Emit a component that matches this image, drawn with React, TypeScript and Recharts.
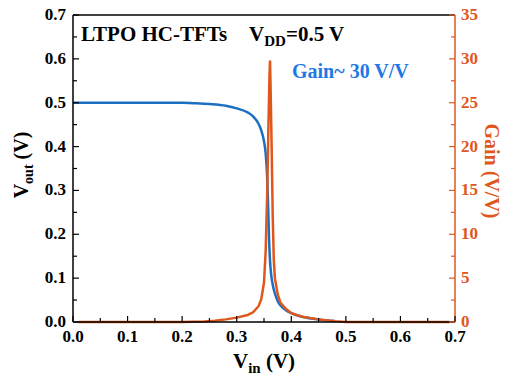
import React from 'react';
import { ComposedChart, Line, XAxis, YAxis, ReferenceLine } from 'recharts';

const BLUE = '#1a6fc0';
const ORANGE = '#e0571c';
const TEXT_BLUE = '#1f78e6';
const FONT = '"Liberation Serif", "Times New Roman", serif';

// Vout transfer curve
const vinVout = [0, 0.05, 0.1, 0.15, 0.2, 0.22, 0.25, 0.28, 0.3, 0.32, 0.33, 0.34, 0.345, 0.35, 0.353, 0.355, 0.357, 0.359, 0.361, 0.363, 0.366, 0.37, 0.375, 0.38, 0.39, 0.4, 0.42, 0.45, 0.48];
const vout = [0.5, 0.5, 0.5, 0.5, 0.5, 0.499, 0.497, 0.493, 0.487, 0.478, 0.469, 0.452, 0.437, 0.412, 0.385, 0.35, 0.29, 0.2, 0.14, 0.11, 0.085, 0.065, 0.048, 0.038, 0.027, 0.02, 0.012, 0.006, 0.002];

// Gain curve
const vinGain = [0.01, 0.1, 0.2, 0.24, 0.26, 0.28, 0.3, 0.32, 0.33, 0.34, 0.345, 0.35, 0.353, 0.356, 0.358, 0.36, 0.361, 0.362, 0.364, 0.366, 0.368, 0.37, 0.375, 0.38, 0.39, 0.4, 0.42, 0.45, 0.48, 0.5, 0.6, 0.69];
const gain = [0, 0, 0, 0.05, 0.15, 0.3, 0.5, 0.8, 1.1, 1.8, 2.6, 4.5, 8, 15, 22, 28, 29.8, 27, 20, 12, 7, 5, 3.2, 2.2, 1.5, 1.0, 0.6, 0.3, 0.1, 0, 0, 0];

const xTicks = [0, 0.05, 0.1, 0.15, 0.2, 0.25, 0.3, 0.35, 0.4, 0.45, 0.5, 0.55, 0.6, 0.65, 0.7];
const voutTicks = [0, 0.05, 0.1, 0.15, 0.2, 0.25, 0.3, 0.35, 0.4, 0.45, 0.5, 0.55, 0.6, 0.65, 0.7];
const gainTicks = [0, 2.5, 5, 7.5, 10, 12.5, 15, 17.5, 20, 22.5, 25, 27.5, 30, 32.5, 35];

const voutData = vinVout.map((v, i) => ({ vin: v, vout: vout[i] }));
const gainData = vinGain.map((v, i) => ({ vin: v, gain: gain[i] }));

const isMajor = (v: number, step: number) => Math.abs(v / step - Math.round(v / step)) < 1e-6;

function LeftTick({ x, y, payload }: any) {
  const major = isMajor(payload.value, 0.1);
  return (
    <g>
      <line x1={x} x2={x + (major ? 6 : 4)} y1={y} y2={y} stroke="#000" strokeWidth={1.2} />
      {major && (
        <text x={x - 7} y={y + 5} textAnchor="end" fontFamily={FONT} fontWeight="bold" fontSize={17} fill="#000">
          {payload.value.toFixed(1)}
        </text>
      )}
    </g>
  );
}

function RightTick({ x, y, payload }: any) {
  const major = isMajor(payload.value, 5);
  return (
    <g>
      <line x1={x} x2={x - (major ? 6 : 4)} y1={y} y2={y} stroke={ORANGE} strokeWidth={1.2} />
      {major && (
        <text x={x + 6} y={y + 5} textAnchor="start" fontFamily={FONT} fontWeight="bold" fontSize={17} fill={ORANGE}>
          {payload.value}
        </text>
      )}
    </g>
  );
}

function BottomTick({ x, y, payload }: any) {
  const major = isMajor(payload.value, 0.1);
  return (
    <g>
      <line x1={x} x2={x} y1={y} y2={y - (major ? 6 : 4)} stroke="#000" strokeWidth={1.2} />
      {major && (
        <text x={x} y={y + 20} textAnchor="middle" fontFamily={FONT} fontWeight="bold" fontSize={17} fill="#000">
          {payload.value.toFixed(1)}
        </text>
      )}
    </g>
  );
}

export default function App() {
  return (
    <div style={{ position: 'absolute', left: 0, top: 0, width: 506, height: 376, background: '#fff' }}>
      <ComposedChart width={506} height={376} margin={{ top: 15, right: 0, bottom: 0, left: 0 }}>
        <XAxis
          dataKey="vin"
          type="number"
          domain={[0, 0.7]}
          ticks={xTicks}
          interval={0}
          tick={<BottomTick />}
          tickSize={0}
          tickMargin={0}
          height={54}
          axisLine={{ stroke: '#000', strokeWidth: 1.5 }}
          allowDuplicatedCategory={false}
        />
        <YAxis
          yAxisId="left"
          type="number"
          domain={[0, 0.7]}
          ticks={voutTicks}
          interval={0}
          tick={<LeftTick />}
          tickSize={0}
          tickMargin={0}
          width={73}
          axisLine={{ stroke: '#000', strokeWidth: 1.5 }}
        />
        <YAxis
          yAxisId="right"
          orientation="right"
          type="number"
          domain={[0, 35]}
          ticks={gainTicks}
          interval={0}
          tick={<RightTick />}
          tickSize={0}
          tickMargin={0}
          width={51}
          axisLine={{ stroke: ORANGE, strokeWidth: 1.5 }}
        />
        <ReferenceLine yAxisId="left" y={0.7} stroke="#000" strokeWidth={1.5} />
        <Line
          yAxisId="left"
          data={voutData}
          dataKey="vout"
          type="monotone"
          stroke={BLUE}
          strokeWidth={2.5}
          dot={false}
          isAnimationActive={false}
        />
        <Line
          yAxisId="right"
          data={gainData}
          dataKey="gain"
          type="linear"
          stroke={ORANGE}
          strokeWidth={2.5}
          dot={false}
          isAnimationActive={false}
        />
        <text x={81} y={41} fontFamily={FONT} fontWeight="bold" fontSize={21} fill="#000">
          LTPO HC-TFTs
          <tspan dx={22}>V</tspan>
          <tspan fontSize={15} dy={5}>DD</tspan>
          <tspan dy={-5}>=0.5 V</tspan>
        </text>
        <text x={292} y={78} fontFamily={FONT} fontWeight="bold" fontSize={20} fill={TEXT_BLUE}>
          Gain~ 30 V/V
        </text>
        <text x={233} y={368} fontFamily={FONT} fontWeight="bold" fontSize={21} fill="#000">
          V<tspan fontSize={15} dy={5}>in</tspan>
          <tspan dy={-5}> (V)</tspan>
        </text>
        <text
          transform="translate(28,165) rotate(-90)"
          textAnchor="middle"
          fontFamily={FONT}
          fontWeight="bold"
          fontSize={20}
          fill="#000"
        >
          V<tspan fontSize={14} dy={5}>out</tspan>
          <tspan dy={-5}> (V)</tspan>
        </text>
        <text
          transform="translate(485,171) rotate(90)"
          textAnchor="middle"
          fontFamily={FONT}
          fontWeight="bold"
          fontSize={20}
          fill={ORANGE}
        >
          Gain (V/V)
        </text>
      </ComposedChart>
    </div>
  );
}
